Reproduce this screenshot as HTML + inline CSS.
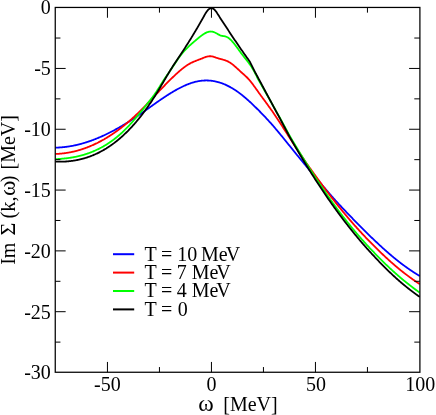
<!DOCTYPE html>
<html><head><meta charset="utf-8"><title>plot</title>
<style>
html,body{margin:0;padding:0;background:#fff;}
svg{display:block;will-change:transform;opacity:0.9999;}
text{font-family:"Liberation Serif",serif;font-size:20px;fill:#000;}
</style></head><body>
<svg width="436" height="415" viewBox="0 0 436 415">
<rect x="0" y="0" width="436" height="415" fill="#fff"/>

<clipPath id="c"><rect x="55.25" y="7.45" width="364.65" height="364.8"/></clipPath>
<g clip-path="url(#c)" fill="none" stroke-width="1.8" stroke-linejoin="round">
<path d="M55.3,147.65 L55.8,147.64 L56.3,147.62 L56.8,147.61 L57.3,147.59 L57.8,147.57 L58.3,147.55 L58.8,147.52 L59.3,147.49 L59.8,147.46 L60.3,147.43 L60.8,147.39 L61.3,147.35 L61.8,147.31 L62.3,147.27 L62.8,147.22 L63.3,147.17 L63.8,147.12 L64.3,147.07 L64.8,147.01 L65.3,146.95 L65.8,146.89 L66.3,146.82 L66.8,146.76 L67.3,146.69 L67.8,146.62 L68.3,146.54 L68.8,146.47 L69.3,146.39 L69.8,146.31 L70.3,146.22 L70.8,146.14 L71.3,146.05 L71.8,145.96 L72.3,145.86 L72.8,145.77 L73.3,145.67 L73.8,145.57 L74.3,145.46 L74.8,145.36 L75.3,145.25 L75.8,145.14 L76.3,145.03 L76.8,144.91 L77.3,144.79 L77.8,144.67 L78.3,144.55 L78.8,144.43 L79.3,144.30 L79.8,144.17 L80.3,144.04 L80.8,143.91 L81.3,143.77 L81.8,143.64 L82.3,143.50 L82.8,143.35 L83.3,143.21 L83.8,143.06 L84.3,142.91 L84.8,142.76 L85.3,142.61 L85.8,142.45 L86.3,142.29 L86.8,142.13 L87.3,141.97 L87.8,141.81 L88.3,141.64 L88.8,141.47 L89.3,141.30 L89.8,141.13 L90.3,140.95 L90.8,140.78 L91.3,140.60 L91.8,140.41 L92.3,140.23 L92.8,140.05 L93.3,139.86 L93.8,139.67 L94.3,139.48 L94.8,139.28 L95.3,139.09 L95.8,138.89 L96.3,138.69 L96.8,138.49 L97.3,138.28 L97.8,138.08 L98.3,137.87 L98.8,137.66 L99.3,137.45 L99.8,137.23 L100.3,137.02 L100.8,136.80 L101.3,136.58 L101.8,136.36 L102.3,136.13 L102.8,135.91 L103.3,135.68 L103.8,135.45 L104.3,135.22 L104.8,134.98 L105.3,134.75 L105.8,134.51 L106.3,134.27 L106.8,134.03 L107.3,133.79 L107.8,133.54 L108.3,133.30 L108.8,133.05 L109.3,132.80 L109.8,132.55 L110.3,132.29 L110.8,132.04 L111.3,131.78 L111.8,131.52 L112.3,131.26 L112.8,131.00 L113.3,130.73 L113.8,130.47 L114.3,130.20 L114.8,129.93 L115.3,129.66 L115.8,129.39 L116.3,129.11 L116.8,128.83 L117.3,128.56 L117.8,128.28 L118.3,127.99 L118.8,127.71 L119.3,127.43 L119.8,127.14 L120.3,126.85 L120.8,126.56 L121.3,126.27 L121.8,125.98 L122.3,125.68 L122.8,125.38 L123.3,125.09 L123.8,124.79 L124.3,124.48 L124.8,124.18 L125.3,123.88 L125.8,123.57 L126.3,123.26 L126.8,122.95 L127.3,122.64 L127.8,122.33 L128.3,122.02 L128.8,121.70 L129.3,121.39 L129.8,121.07 L130.3,120.75 L130.8,120.43 L131.3,120.10 L131.8,119.78 L132.3,119.45 L132.8,119.13 L133.3,118.80 L133.8,118.47 L134.3,118.14 L134.8,117.80 L135.3,117.47 L135.8,117.13 L136.3,116.80 L136.8,116.46 L137.3,116.12 L137.8,115.78 L138.3,115.43 L138.8,115.09 L139.3,114.75 L139.8,114.40 L140.3,114.05 L140.8,113.70 L141.3,113.35 L141.8,113.00 L142.3,112.65 L142.8,112.30 L143.3,111.95 L143.8,111.60 L144.3,111.24 L144.8,110.89 L145.3,110.53 L145.8,110.18 L146.3,109.82 L146.8,109.47 L147.3,109.11 L147.8,108.75 L148.3,108.40 L148.8,108.04 L149.3,107.68 L149.8,107.33 L150.3,106.97 L150.8,106.61 L151.3,106.26 L151.8,105.90 L152.3,105.54 L152.8,105.19 L153.3,104.83 L153.8,104.48 L154.3,104.12 L154.8,103.77 L155.3,103.42 L155.8,103.06 L156.3,102.71 L156.8,102.36 L157.3,102.01 L157.8,101.66 L158.3,101.31 L158.8,100.97 L159.3,100.62 L159.8,100.27 L160.3,99.93 L160.8,99.59 L161.3,99.25 L161.8,98.91 L162.3,98.57 L162.8,98.23 L163.3,97.89 L163.8,97.56 L164.3,97.23 L164.8,96.90 L165.3,96.57 L165.8,96.24 L166.3,95.91 L166.8,95.59 L167.3,95.27 L167.8,94.95 L168.3,94.63 L168.8,94.31 L169.3,94.00 L169.8,93.69 L170.3,93.38 L170.8,93.07 L171.3,92.76 L171.8,92.46 L172.3,92.16 L172.8,91.86 L173.3,91.57 L173.8,91.27 L174.3,90.98 L174.8,90.69 L175.3,90.41 L175.8,90.13 L176.3,89.85 L176.8,89.57 L177.3,89.29 L177.8,89.02 L178.3,88.75 L178.8,88.49 L179.3,88.22 L179.8,87.96 L180.3,87.71 L180.8,87.46 L181.3,87.21 L181.8,86.96 L182.3,86.72 L182.8,86.48 L183.3,86.24 L183.8,86.01 L184.3,85.78 L184.8,85.56 L185.3,85.34 L185.8,85.12 L186.3,84.91 L186.8,84.70 L187.3,84.50 L187.8,84.30 L188.3,84.10 L188.8,83.91 L189.3,83.72 L189.8,83.54 L190.3,83.36 L190.8,83.19 L191.3,83.02 L191.8,82.86 L192.3,82.70 L192.8,82.55 L193.3,82.40 L193.8,82.26 L194.3,82.12 L194.8,81.99 L195.3,81.86 L195.8,81.74 L196.3,81.62 L196.8,81.51 L197.3,81.40 L197.8,81.30 L198.3,81.21 L198.8,81.12 L199.3,81.04 L199.8,80.96 L200.3,80.89 L200.8,80.82 L201.3,80.76 L201.8,80.70 L202.3,80.65 L202.8,80.61 L203.3,80.57 L203.8,80.54 L204.3,80.51 L204.8,80.49 L205.3,80.48 L205.8,80.47 L206.3,80.46 L206.8,80.47 L207.3,80.48 L207.8,80.49 L208.3,80.51 L208.8,80.54 L209.3,80.57 L209.8,80.61 L210.3,80.65 L210.8,80.70 L211.3,80.76 L211.8,80.82 L212.3,80.89 L212.8,80.96 L213.3,81.04 L213.8,81.13 L214.3,81.22 L214.8,81.31 L215.3,81.42 L215.8,81.52 L216.3,81.64 L216.8,81.76 L217.3,81.88 L217.8,82.01 L218.3,82.15 L218.8,82.29 L219.3,82.44 L219.8,82.60 L220.3,82.76 L220.8,82.92 L221.3,83.09 L221.8,83.27 L222.3,83.45 L222.8,83.64 L223.3,83.83 L223.8,84.03 L224.3,84.24 L224.8,84.45 L225.3,84.67 L225.8,84.89 L226.3,85.11 L226.8,85.35 L227.3,85.59 L227.8,85.83 L228.3,86.08 L228.8,86.34 L229.3,86.60 L229.8,86.87 L230.3,87.14 L230.8,87.42 L231.3,87.70 L231.8,87.99 L232.3,88.28 L232.8,88.58 L233.3,88.89 L233.8,89.20 L234.3,89.52 L234.8,89.84 L235.3,90.17 L235.8,90.50 L236.3,90.84 L236.8,91.18 L237.3,91.53 L237.8,91.89 L238.3,92.25 L238.8,92.61 L239.3,92.98 L239.8,93.36 L240.3,93.74 L240.8,94.12 L241.3,94.51 L241.8,94.90 L242.3,95.30 L242.8,95.70 L243.3,96.11 L243.8,96.52 L244.3,96.94 L244.8,97.36 L245.3,97.78 L245.8,98.21 L246.3,98.64 L246.8,99.08 L247.3,99.52 L247.8,99.96 L248.3,100.41 L248.8,100.86 L249.3,101.32 L249.8,101.78 L250.3,102.24 L250.8,102.70 L251.3,103.17 L251.8,103.64 L252.3,104.12 L252.8,104.60 L253.3,105.08 L253.8,105.56 L254.3,106.05 L254.8,106.54 L255.3,107.03 L255.8,107.51 L256.3,108.00 L256.8,108.49 L257.3,108.99 L257.8,109.48 L258.3,109.98 L258.8,110.48 L259.3,110.99 L259.8,111.49 L260.3,112.00 L260.8,112.51 L261.3,113.03 L261.8,113.54 L262.3,114.06 L262.8,114.58 L263.3,115.10 L263.8,115.62 L264.3,116.15 L264.8,116.68 L265.3,117.21 L265.8,117.74 L266.3,118.28 L266.8,118.82 L267.3,119.36 L267.8,119.90 L268.3,120.44 L268.8,120.99 L269.3,121.53 L269.8,122.08 L270.3,122.63 L270.8,123.18 L271.3,123.73 L271.8,124.29 L272.3,124.86 L272.8,125.44 L273.3,126.03 L273.8,126.61 L274.3,127.20 L274.8,127.79 L275.3,128.38 L275.8,128.97 L276.3,129.57 L276.8,130.16 L277.3,130.76 L277.8,131.35 L278.3,131.95 L278.8,132.55 L279.3,133.15 L279.8,133.75 L280.3,134.36 L280.8,134.97 L281.3,135.58 L281.8,136.19 L282.3,136.80 L282.8,137.42 L283.3,138.03 L283.8,138.65 L284.3,139.26 L284.8,139.88 L285.3,140.50 L285.8,141.12 L286.3,141.74 L286.8,142.36 L287.3,142.98 L287.8,143.60 L288.3,144.22 L288.8,144.83 L289.3,145.44 L289.8,146.06 L290.3,146.67 L290.8,147.29 L291.3,147.90 L291.8,148.52 L292.3,149.13 L292.8,149.75 L293.3,150.37 L293.8,150.98 L294.3,151.60 L294.8,152.22 L295.3,152.84 L295.8,153.46 L296.3,154.08 L296.8,154.70 L297.3,155.31 L297.8,155.93 L298.3,156.55 L298.8,157.15 L299.3,157.76 L299.8,158.36 L300.3,158.97 L300.8,159.57 L301.3,160.18 L301.8,160.79 L302.3,161.39 L302.8,162.00 L303.3,162.60 L303.8,163.21 L304.3,163.81 L304.8,164.42 L305.3,165.02 L305.8,165.63 L306.3,166.23 L306.8,166.83 L307.3,167.44 L307.8,168.04 L308.3,168.64 L308.8,169.24 L309.3,169.84 L309.8,170.44 L310.3,171.04 L310.8,171.64 L311.3,172.24 L311.8,172.84 L312.3,173.44 L312.8,174.04 L313.3,174.63 L313.8,175.23 L314.3,175.83 L314.8,176.42 L315.3,177.02 L315.8,177.61 L316.3,178.21 L316.8,178.80 L317.3,179.39 L317.8,179.99 L318.3,180.58 L318.8,181.17 L319.3,181.76 L319.8,182.35 L320.3,182.94 L320.8,183.53 L321.3,184.11 L321.8,184.70 L322.3,185.29 L322.8,185.87 L323.3,186.46 L323.8,187.04 L324.3,187.63 L324.8,188.21 L325.3,188.79 L325.8,189.37 L326.3,189.95 L326.8,190.53 L327.3,191.11 L327.8,191.69 L328.3,192.27 L328.8,192.85 L329.3,193.42 L329.8,194.00 L330.3,194.57 L330.8,195.15 L331.3,195.72 L331.8,196.29 L332.3,196.86 L332.8,197.43 L333.3,198.00 L333.8,198.57 L334.3,199.14 L334.8,199.71 L335.3,200.26 L335.8,200.80 L336.3,201.35 L336.8,201.89 L337.3,202.43 L337.8,202.97 L338.3,203.51 L338.8,204.05 L339.3,204.59 L339.8,205.12 L340.3,205.66 L340.8,206.19 L341.3,206.73 L341.8,207.26 L342.3,207.79 L342.8,208.32 L343.3,208.85 L343.8,209.38 L344.3,209.91 L344.8,210.43 L345.3,210.96 L345.8,211.48 L346.3,212.01 L346.8,212.53 L347.3,213.05 L347.8,213.57 L348.3,214.09 L348.8,214.61 L349.3,215.12 L349.8,215.64 L350.3,216.16 L350.8,216.68 L351.3,217.20 L351.8,217.72 L352.3,218.24 L352.8,218.76 L353.3,219.28 L353.8,219.80 L354.3,220.31 L354.8,220.83 L355.3,221.34 L355.8,221.85 L356.3,222.36 L356.8,222.87 L357.3,223.38 L357.8,223.88 L358.3,224.39 L358.8,224.89 L359.3,225.40 L359.8,225.90 L360.3,226.40 L360.8,226.91 L361.3,227.42 L361.8,227.93 L362.3,228.43 L362.8,228.93 L363.3,229.44 L363.8,229.94 L364.3,230.44 L364.8,230.93 L365.3,231.43 L365.8,231.93 L366.3,232.42 L366.8,232.91 L367.3,233.40 L367.8,233.89 L368.3,234.38 L368.8,234.87 L369.3,235.35 L369.8,235.84 L370.3,236.32 L370.8,236.80 L371.3,237.28 L371.8,237.76 L372.3,238.23 L372.8,238.71 L373.3,239.18 L373.8,239.65 L374.3,240.13 L374.8,240.59 L375.3,241.07 L375.8,241.54 L376.3,242.02 L376.8,242.49 L377.3,242.96 L377.8,243.43 L378.3,243.90 L378.8,244.36 L379.3,244.83 L379.8,245.29 L380.3,245.75 L380.8,246.21 L381.3,246.67 L381.8,247.13 L382.3,247.58 L382.8,248.04 L383.3,248.49 L383.8,248.94 L384.3,249.39 L384.8,249.83 L385.3,250.28 L385.8,250.72 L386.3,251.16 L386.8,251.60 L387.3,252.04 L387.8,252.47 L388.3,252.91 L388.8,253.34 L389.3,253.77 L389.8,254.20 L390.3,254.63 L390.8,255.05 L391.3,255.48 L391.8,255.90 L392.3,256.32 L392.8,256.74 L393.3,257.15 L393.8,257.57 L394.3,257.98 L394.8,258.39 L395.3,258.80 L395.8,259.21 L396.3,259.61 L396.8,260.01 L397.3,260.41 L397.8,260.81 L398.3,261.21 L398.8,261.61 L399.3,262.00 L399.8,262.39 L400.3,262.78 L400.8,263.16 L401.3,263.53 L401.8,263.91 L402.3,264.29 L402.8,264.66 L403.3,265.03 L403.8,265.40 L404.3,265.76 L404.8,266.13 L405.3,266.49 L405.8,266.85 L406.3,267.21 L406.8,267.56 L407.3,267.91 L407.8,268.27 L408.3,268.62 L408.8,268.96 L409.3,269.31 L409.8,269.65 L410.3,269.99 L410.8,270.33 L411.3,270.67 L411.8,271.00 L412.3,271.34 L412.8,271.67 L413.3,272.00 L413.8,272.32 L414.3,272.65 L414.8,272.97 L415.3,273.29 L415.8,273.60 L416.3,273.92 L416.8,274.23 L417.3,274.54 L417.8,274.85 L418.3,275.16 L418.8,275.46 L419.3,275.76 L419.8,276.06" stroke="#0000ff"/>
<path d="M55.3,153.94 L55.8,153.93 L56.3,153.91 L56.8,153.89 L57.3,153.86 L57.8,153.84 L58.3,153.81 L58.8,153.78 L59.3,153.74 L59.8,153.70 L60.3,153.66 L60.8,153.62 L61.3,153.57 L61.8,153.53 L62.3,153.47 L62.8,153.42 L63.3,153.36 L63.8,153.30 L64.3,153.24 L64.8,153.18 L65.3,153.11 L65.8,153.04 L66.3,152.96 L66.8,152.89 L67.3,152.81 L67.8,152.73 L68.3,152.64 L68.8,152.55 L69.3,152.46 L69.8,152.37 L70.3,152.28 L70.8,152.18 L71.3,152.08 L71.8,151.97 L72.3,151.86 L72.8,151.75 L73.3,151.64 L73.8,151.53 L74.3,151.41 L74.8,151.29 L75.3,151.16 L75.8,151.04 L76.3,150.91 L76.8,150.78 L77.3,150.64 L77.8,150.50 L78.3,150.36 L78.8,150.22 L79.3,150.07 L79.8,149.92 L80.3,149.77 L80.8,149.62 L81.3,149.46 L81.8,149.30 L82.3,149.14 L82.8,148.97 L83.3,148.80 L83.8,148.63 L84.3,148.46 L84.8,148.28 L85.3,148.10 L85.8,147.92 L86.3,147.73 L86.8,147.54 L87.3,147.35 L87.8,147.16 L88.3,146.96 L88.8,146.76 L89.3,146.56 L89.8,146.36 L90.3,146.15 L90.8,145.94 L91.3,145.72 L91.8,145.51 L92.3,145.29 L92.8,145.06 L93.3,144.84 L93.8,144.61 L94.3,144.38 L94.8,144.15 L95.3,143.91 L95.8,143.67 L96.3,143.43 L96.8,143.18 L97.3,142.94 L97.8,142.68 L98.3,142.43 L98.8,142.17 L99.3,141.92 L99.8,141.65 L100.3,141.39 L100.8,141.12 L101.3,140.85 L101.8,140.58 L102.3,140.30 L102.8,140.02 L103.3,139.74 L103.8,139.45 L104.3,139.17 L104.8,138.87 L105.3,138.58 L105.8,138.28 L106.3,137.99 L106.8,137.68 L107.3,137.38 L107.8,137.07 L108.3,136.76 L108.8,136.45 L109.3,136.13 L109.8,135.81 L110.3,135.49 L110.8,135.16 L111.3,134.83 L111.8,134.50 L112.3,134.17 L112.8,133.83 L113.3,133.49 L113.8,133.15 L114.3,132.81 L114.8,132.46 L115.3,132.11 L115.8,131.75 L116.3,131.40 L116.8,131.04 L117.3,130.67 L117.8,130.31 L118.3,129.94 L118.8,129.57 L119.3,129.19 L119.8,128.82 L120.3,128.44 L120.8,128.05 L121.3,127.67 L121.8,127.28 L122.3,126.89 L122.8,126.49 L123.3,126.10 L123.8,125.70 L124.3,125.29 L124.8,124.89 L125.3,124.48 L125.8,124.07 L126.3,123.65 L126.8,123.23 L127.3,122.81 L127.8,122.39 L128.3,121.96 L128.8,121.53 L129.3,121.10 L129.8,120.67 L130.3,120.23 L130.8,119.79 L131.3,119.34 L131.8,118.90 L132.3,118.45 L132.8,117.99 L133.3,117.54 L133.8,117.08 L134.3,116.62 L134.8,116.15 L135.3,115.69 L135.8,115.22 L136.3,114.74 L136.8,114.27 L137.3,113.79 L137.8,113.30 L138.3,112.82 L138.8,112.33 L139.3,111.84 L139.8,111.35 L140.3,110.85 L140.8,110.36 L141.3,109.86 L141.8,109.35 L142.3,108.85 L142.8,108.34 L143.3,107.84 L143.8,107.33 L144.3,106.81 L144.8,106.30 L145.3,105.78 L145.8,105.27 L146.3,104.75 L146.8,104.23 L147.3,103.71 L147.8,103.18 L148.3,102.66 L148.8,102.13 L149.3,101.61 L149.8,101.08 L150.3,100.55 L150.8,100.03 L151.3,99.50 L151.8,98.97 L152.3,98.44 L152.8,97.91 L153.3,97.37 L153.8,96.84 L154.3,96.31 L154.8,95.78 L155.3,95.25 L155.8,94.72 L156.3,94.18 L156.8,93.65 L157.3,93.12 L157.8,92.59 L158.3,92.06 L158.8,91.53 L159.3,91.00 L159.8,90.47 L160.3,89.95 L160.8,89.42 L161.3,88.89 L161.8,88.37 L162.3,87.85 L162.8,87.32 L163.3,86.80 L163.8,86.28 L164.3,85.76 L164.8,85.25 L165.3,84.73 L165.8,84.22 L166.3,83.70 L166.8,83.19 L167.3,82.69 L167.8,82.18 L168.3,81.68 L168.8,81.17 L169.3,80.67 L169.8,80.18 L170.3,79.68 L170.8,79.19 L171.3,78.70 L171.8,78.21 L172.3,77.73 L172.8,77.25 L173.3,76.77 L173.8,76.29 L174.3,75.82 L174.8,75.35 L175.3,74.88 L175.8,74.42 L176.3,73.96 L176.8,73.50 L177.3,73.05 L177.8,72.60 L178.3,72.15 L178.8,71.71 L179.3,71.28 L179.8,70.85 L180.3,70.42 L180.8,70.00 L181.3,69.58 L181.8,69.17 L182.3,68.77 L182.8,68.37 L183.3,67.98 L183.8,67.59 L184.3,67.22 L184.8,66.85 L185.3,66.49 L185.8,66.13 L186.3,65.78 L186.8,65.45 L187.3,65.12 L187.8,64.80 L188.3,64.48 L188.8,64.18 L189.3,63.89 L189.8,63.61 L190.3,63.33 L190.8,63.07 L191.3,62.82 L191.8,62.57 L192.3,62.34 L192.8,62.11 L193.3,61.89 L193.8,61.67 L194.3,61.46 L194.8,61.25 L195.3,61.05 L195.8,60.85 L196.3,60.66 L196.8,60.47 L197.3,60.28 L197.8,60.09 L198.3,59.90 L198.8,59.71 L199.3,59.52 L199.8,59.33 L200.3,59.14 L200.8,58.94 L201.3,58.75 L201.8,58.55 L202.3,58.34 L202.8,58.13 L203.3,57.92 L203.8,57.70 L204.3,57.50 L204.8,57.30 L205.3,57.11 L205.8,56.93 L206.3,56.77 L206.8,56.64 L207.3,56.52 L207.8,56.42 L208.3,56.35 L208.8,56.29 L209.3,56.25 L209.8,56.24 L210.3,56.24 L210.8,56.27 L211.3,56.32 L211.8,56.39 L212.3,56.48 L212.8,56.59 L213.3,56.73 L213.8,56.88 L214.3,57.04 L214.8,57.22 L215.3,57.39 L215.8,57.57 L216.3,57.75 L216.8,57.92 L217.3,58.08 L217.8,58.23 L218.3,58.38 L218.8,58.52 L219.3,58.66 L219.8,58.79 L220.3,58.92 L220.8,59.06 L221.3,59.19 L221.8,59.32 L222.3,59.45 L222.8,59.59 L223.3,59.74 L223.8,59.89 L224.3,60.04 L224.8,60.21 L225.3,60.38 L225.8,60.56 L226.3,60.76 L226.8,60.96 L227.3,61.18 L227.8,61.42 L228.3,61.67 L228.8,61.93 L229.3,62.22 L229.8,62.52 L230.3,62.84 L230.8,63.17 L231.3,63.53 L231.8,63.89 L232.3,64.27 L232.8,64.66 L233.3,65.06 L233.8,65.47 L234.3,65.89 L234.8,66.32 L235.3,66.76 L235.8,67.20 L236.3,67.65 L236.8,68.11 L237.3,68.56 L237.8,69.02 L238.3,69.49 L238.8,69.95 L239.3,70.41 L239.8,70.88 L240.3,71.34 L240.8,71.80 L241.3,72.26 L241.8,72.71 L242.3,73.16 L242.8,73.61 L243.3,74.05 L243.8,74.49 L244.3,74.94 L244.8,75.38 L245.3,75.84 L245.8,76.30 L246.3,76.76 L246.8,77.24 L247.3,77.74 L247.8,78.25 L248.3,78.78 L248.8,79.32 L249.3,79.89 L249.8,80.48 L250.3,81.08 L250.8,81.71 L251.3,82.34 L251.8,82.99 L252.3,83.66 L252.8,84.34 L253.3,85.03 L253.8,85.72 L254.3,86.41 L254.8,87.09 L255.3,87.78 L255.8,88.48 L256.3,89.18 L256.8,89.88 L257.3,90.58 L257.8,91.29 L258.3,91.99 L258.8,92.70 L259.3,93.40 L259.8,94.10 L260.3,94.79 L260.8,95.48 L261.3,96.16 L261.8,96.84 L262.3,97.51 L262.8,98.19 L263.3,98.87 L263.8,99.54 L264.3,100.22 L264.8,100.89 L265.3,101.57 L265.8,102.24 L266.3,102.93 L266.8,103.63 L267.3,104.32 L267.8,105.02 L268.3,105.72 L268.8,106.41 L269.3,107.11 L269.8,107.81 L270.3,108.50 L270.8,109.20 L271.3,109.90 L271.8,110.60 L272.3,111.32 L272.8,112.05 L273.3,112.78 L273.8,113.51 L274.3,114.25 L274.8,114.98 L275.3,115.72 L275.8,116.46 L276.3,117.19 L276.8,117.93 L277.3,118.67 L277.8,119.41 L278.3,120.17 L278.8,120.94 L279.3,121.71 L279.8,122.48 L280.3,123.26 L280.8,124.03 L281.3,124.80 L281.8,125.58 L282.3,126.35 L282.8,127.12 L283.3,127.90 L283.8,128.68 L284.3,129.45 L284.8,130.23 L285.3,131.01 L285.8,131.78 L286.3,132.56 L286.8,133.34 L287.3,134.12 L287.8,134.90 L288.3,135.67 L288.8,136.45 L289.3,137.23 L289.8,138.01 L290.3,138.79 L290.8,139.57 L291.3,140.35 L291.8,141.13 L292.3,141.89 L292.8,142.66 L293.3,143.42 L293.8,144.18 L294.3,144.94 L294.8,145.70 L295.3,146.46 L295.8,147.22 L296.3,147.98 L296.8,148.74 L297.3,149.50 L297.8,150.26 L298.3,151.02 L298.8,151.78 L299.3,152.53 L299.8,153.29 L300.3,154.04 L300.8,154.80 L301.3,155.55 L301.8,156.31 L302.3,157.06 L302.8,157.81 L303.3,158.56 L303.8,159.31 L304.3,160.06 L304.8,160.81 L305.3,161.54 L305.8,162.25 L306.3,162.96 L306.8,163.67 L307.3,164.38 L307.8,165.08 L308.3,165.79 L308.8,166.49 L309.3,167.20 L309.8,167.90 L310.3,168.60 L310.8,169.30 L311.3,170.00 L311.8,170.70 L312.3,171.39 L312.8,172.09 L313.3,172.78 L313.8,173.47 L314.3,174.16 L314.8,174.84 L315.3,175.54 L315.8,176.24 L316.3,176.94 L316.8,177.63 L317.3,178.33 L317.8,179.02 L318.3,179.71 L318.8,180.40 L319.3,181.08 L319.8,181.77 L320.3,182.45 L320.8,183.14 L321.3,183.82 L321.8,184.50 L322.3,185.17 L322.8,185.85 L323.3,186.52 L323.8,187.20 L324.3,187.87 L324.8,188.54 L325.3,189.20 L325.8,189.87 L326.3,190.53 L326.8,191.19 L327.3,191.85 L327.8,192.51 L328.3,193.17 L328.8,193.83 L329.3,194.48 L329.8,195.13 L330.3,195.78 L330.8,196.43 L331.3,197.08 L331.8,197.72 L332.3,198.37 L332.8,199.01 L333.3,199.65 L333.8,200.29 L334.3,200.92 L334.8,201.56 L335.3,202.19 L335.8,202.82 L336.3,203.45 L336.8,204.08 L337.3,204.71 L337.8,205.33 L338.3,205.95 L338.8,206.58 L339.3,207.19 L339.8,207.81 L340.3,208.43 L340.8,209.04 L341.3,209.66 L341.8,210.27 L342.3,210.88 L342.8,211.48 L343.3,212.09 L343.8,212.69 L344.3,213.29 L344.8,213.89 L345.3,214.49 L345.8,215.09 L346.3,215.69 L346.8,216.28 L347.3,216.87 L347.8,217.46 L348.3,218.05 L348.8,218.64 L349.3,219.22 L349.8,219.80 L350.3,220.38 L350.8,220.96 L351.3,221.54 L351.8,222.12 L352.3,222.69 L352.8,223.26 L353.3,223.84 L353.8,224.40 L354.3,224.97 L354.8,225.54 L355.3,226.10 L355.8,226.66 L356.3,227.22 L356.8,227.78 L357.3,228.34 L357.8,228.89 L358.3,229.45 L358.8,230.00 L359.3,230.55 L359.8,231.09 L360.3,231.64 L360.8,232.18 L361.3,232.73 L361.8,233.27 L362.3,233.81 L362.8,234.34 L363.3,234.88 L363.8,235.41 L364.3,235.94 L364.8,236.47 L365.3,237.00 L365.8,237.53 L366.3,238.05 L366.8,238.58 L367.3,239.10 L367.8,239.62 L368.3,240.13 L368.8,240.65 L369.3,241.16 L369.8,241.67 L370.3,242.18 L370.8,242.69 L371.3,243.20 L371.8,243.70 L372.3,244.21 L372.8,244.71 L373.3,245.21 L373.8,245.71 L374.3,246.20 L374.8,246.70 L375.3,247.19 L375.8,247.69 L376.3,248.19 L376.8,248.69 L377.3,249.18 L377.8,249.68 L378.3,250.17 L378.8,250.66 L379.3,251.15 L379.8,251.63 L380.3,252.12 L380.8,252.60 L381.3,253.08 L381.8,253.56 L382.3,254.03 L382.8,254.51 L383.3,254.98 L383.8,255.45 L384.3,255.92 L384.8,256.39 L385.3,256.85 L385.8,257.32 L386.3,257.78 L386.8,258.24 L387.3,258.70 L387.8,259.15 L388.3,259.61 L388.8,260.06 L389.3,260.51 L389.8,260.96 L390.3,261.41 L390.8,261.85 L391.3,262.30 L391.8,262.74 L392.3,263.18 L392.8,263.62 L393.3,264.05 L393.8,264.49 L394.3,264.92 L394.8,265.35 L395.3,265.78 L395.8,266.21 L396.3,266.63 L396.8,267.05 L397.3,267.47 L397.8,267.89 L398.3,268.31 L398.8,268.73 L399.3,269.14 L399.8,269.55 L400.3,269.96 L400.8,270.36 L401.3,270.76 L401.8,271.15 L402.3,271.55 L402.8,271.94 L403.3,272.33 L403.8,272.72 L404.3,273.11 L404.8,273.49 L405.3,273.88 L405.8,274.26 L406.3,274.64 L406.8,275.02 L407.3,275.39 L407.8,275.77 L408.3,276.14 L408.8,276.51 L409.3,276.88 L409.8,277.24 L410.3,277.61 L410.8,277.97 L411.3,278.33 L411.8,278.69 L412.3,279.05 L412.8,279.40 L413.3,279.76 L413.8,280.11 L414.3,280.46 L414.8,280.81 L415.3,281.15 L415.8,281.49 L416.3,281.84 L416.8,282.18 L417.3,282.51 L417.8,282.85 L418.3,283.18 L418.8,283.52 L419.3,283.85 L419.8,284.17" stroke="#ff0000"/>
<path d="M55.3,159.15 L55.8,159.13 L56.3,159.11 L56.8,159.08 L57.3,159.06 L57.8,159.03 L58.3,159.00 L58.8,158.97 L59.3,158.94 L59.8,158.91 L60.3,158.87 L60.8,158.83 L61.3,158.79 L61.8,158.75 L62.3,158.71 L62.8,158.67 L63.3,158.62 L63.8,158.57 L64.3,158.52 L64.8,158.47 L65.3,158.41 L65.8,158.36 L66.3,158.30 L66.8,158.24 L67.3,158.18 L67.8,158.11 L68.3,158.05 L68.8,157.98 L69.3,157.91 L69.8,157.83 L70.3,157.76 L70.8,157.68 L71.3,157.60 L71.8,157.51 L72.3,157.43 L72.8,157.34 L73.3,157.25 L73.8,157.16 L74.3,157.06 L74.8,156.97 L75.3,156.87 L75.8,156.76 L76.3,156.66 L76.8,156.55 L77.3,156.44 L77.8,156.33 L78.3,156.21 L78.8,156.09 L79.3,155.97 L79.8,155.85 L80.3,155.72 L80.8,155.59 L81.3,155.46 L81.8,155.33 L82.3,155.19 L82.8,155.05 L83.3,154.90 L83.8,154.76 L84.3,154.61 L84.8,154.45 L85.3,154.30 L85.8,154.14 L86.3,153.98 L86.8,153.81 L87.3,153.64 L87.8,153.47 L88.3,153.29 L88.8,153.12 L89.3,152.93 L89.8,152.75 L90.3,152.56 L90.8,152.37 L91.3,152.18 L91.8,151.98 L92.3,151.77 L92.8,151.57 L93.3,151.36 L93.8,151.15 L94.3,150.93 L94.8,150.71 L95.3,150.49 L95.8,150.26 L96.3,150.03 L96.8,149.80 L97.3,149.56 L97.8,149.32 L98.3,149.08 L98.8,148.83 L99.3,148.58 L99.8,148.32 L100.3,148.06 L100.8,147.79 L101.3,147.53 L101.8,147.25 L102.3,146.98 L102.8,146.70 L103.3,146.42 L103.8,146.13 L104.3,145.84 L104.8,145.54 L105.3,145.24 L105.8,144.93 L106.3,144.63 L106.8,144.31 L107.3,144.00 L107.8,143.67 L108.3,143.35 L108.8,143.02 L109.3,142.69 L109.8,142.35 L110.3,142.00 L110.8,141.66 L111.3,141.31 L111.8,140.95 L112.3,140.59 L112.8,140.22 L113.3,139.85 L113.8,139.48 L114.3,139.10 L114.8,138.71 L115.3,138.32 L115.8,137.93 L116.3,137.53 L116.8,137.13 L117.3,136.72 L117.8,136.30 L118.3,135.88 L118.8,135.46 L119.3,135.03 L119.8,134.59 L120.3,134.15 L120.8,133.71 L121.3,133.26 L121.8,132.80 L122.3,132.34 L122.8,131.87 L123.3,131.39 L123.8,130.92 L124.3,130.43 L124.8,129.94 L125.3,129.44 L125.8,128.94 L126.3,128.44 L126.8,127.92 L127.3,127.41 L127.8,126.89 L128.3,126.36 L128.8,125.83 L129.3,125.29 L129.8,124.75 L130.3,124.21 L130.8,123.66 L131.3,123.11 L131.8,122.55 L132.3,121.99 L132.8,121.42 L133.3,120.85 L133.8,120.28 L134.3,119.71 L134.8,119.13 L135.3,118.54 L135.8,117.96 L136.3,117.37 L136.8,116.78 L137.3,116.18 L137.8,115.58 L138.3,114.98 L138.8,114.38 L139.3,113.77 L139.8,113.16 L140.3,112.55 L140.8,111.94 L141.3,111.32 L141.8,110.71 L142.3,110.09 L142.8,109.47 L143.3,108.84 L143.8,108.22 L144.3,107.59 L144.8,106.97 L145.3,106.34 L145.8,105.71 L146.3,105.08 L146.8,104.45 L147.3,103.81 L147.8,103.18 L148.3,102.55 L148.8,101.91 L149.3,101.28 L149.8,100.64 L150.3,100.01 L150.8,99.37 L151.3,98.73 L151.8,98.09 L152.3,97.45 L152.8,96.80 L153.3,96.13 L153.8,95.46 L154.3,94.78 L154.8,94.08 L155.3,93.36 L155.8,92.63 L156.3,91.89 L156.8,91.13 L157.3,90.36 L157.8,89.58 L158.3,88.79 L158.8,87.99 L159.3,87.19 L159.8,86.39 L160.3,85.59 L160.8,84.78 L161.3,83.98 L161.8,83.18 L162.3,82.39 L162.8,81.60 L163.3,80.82 L163.8,80.05 L164.3,79.29 L164.8,78.54 L165.3,77.80 L165.8,77.06 L166.3,76.33 L166.8,75.60 L167.3,74.88 L167.8,74.16 L168.3,73.44 L168.8,72.72 L169.3,71.99 L169.8,71.27 L170.3,70.54 L170.8,69.81 L171.3,69.07 L171.8,68.33 L172.3,67.58 L172.8,66.82 L173.3,66.05 L173.8,65.28 L174.3,64.51 L174.8,63.74 L175.3,62.97 L175.8,62.21 L176.3,61.45 L176.8,60.69 L177.3,59.95 L177.8,59.22 L178.3,58.51 L178.8,57.81 L179.3,57.12 L179.8,56.45 L180.3,55.79 L180.8,55.14 L181.3,54.51 L181.8,53.89 L182.3,53.28 L182.8,52.69 L183.3,52.11 L183.8,51.53 L184.3,50.97 L184.8,50.42 L185.3,49.88 L185.8,49.35 L186.3,48.83 L186.8,48.32 L187.3,47.82 L187.8,47.32 L188.3,46.84 L188.8,46.36 L189.3,45.89 L189.8,45.43 L190.3,44.97 L190.8,44.52 L191.3,44.07 L191.8,43.63 L192.3,43.20 L192.8,42.77 L193.3,42.34 L193.8,41.91 L194.3,41.49 L194.8,41.07 L195.3,40.65 L195.8,40.23 L196.3,39.81 L196.8,39.39 L197.3,38.97 L197.8,38.55 L198.3,38.13 L198.8,37.72 L199.3,37.31 L199.8,36.91 L200.3,36.51 L200.8,36.12 L201.3,35.74 L201.8,35.36 L202.3,35.00 L202.8,34.65 L203.3,34.31 L203.8,33.99 L204.3,33.68 L204.8,33.39 L205.3,33.12 L205.8,32.86 L206.3,32.62 L206.8,32.40 L207.3,32.21 L207.8,32.03 L208.3,31.88 L208.8,31.75 L209.3,31.65 L209.8,31.58 L210.3,31.53 L210.8,31.52 L211.3,31.53 L211.8,31.57 L212.3,31.65 L212.8,31.75 L213.3,31.90 L213.8,32.07 L214.3,32.27 L214.8,32.50 L215.3,32.74 L215.8,33.00 L216.3,33.27 L216.8,33.55 L217.3,33.83 L217.8,34.11 L218.3,34.39 L218.8,34.65 L219.3,34.90 L219.8,35.14 L220.3,35.35 L220.8,35.53 L221.3,35.69 L221.8,35.81 L222.3,35.91 L222.8,35.99 L223.3,36.07 L223.8,36.14 L224.3,36.21 L224.8,36.31 L225.3,36.42 L225.8,36.56 L226.3,36.73 L226.8,36.95 L227.3,37.21 L227.8,37.50 L228.3,37.83 L228.8,38.19 L229.3,38.58 L229.8,39.01 L230.3,39.46 L230.8,39.94 L231.3,40.44 L231.8,40.97 L232.3,41.52 L232.8,42.09 L233.3,42.69 L233.8,43.29 L234.3,43.92 L234.8,44.55 L235.3,45.20 L235.8,45.86 L236.3,46.53 L236.8,47.21 L237.3,47.89 L237.8,48.58 L238.3,49.27 L238.8,49.96 L239.3,50.65 L239.8,51.33 L240.3,52.02 L240.8,52.69 L241.3,53.36 L241.8,54.02 L242.3,54.67 L242.8,55.32 L243.3,55.95 L243.8,56.58 L244.3,57.21 L244.8,57.84 L245.3,58.47 L245.8,59.10 L246.3,59.73 L246.8,60.37 L247.3,61.01 L247.8,61.67 L248.3,62.33 L248.8,63.00 L249.3,63.69 L249.8,64.39 L250.3,65.11 L250.8,65.85 L251.3,66.60 L251.8,67.38 L252.3,68.18 L252.8,69.00 L253.3,69.85 L253.8,70.73 L254.3,71.63 L254.8,72.57 L255.3,73.51 L255.8,74.46 L256.3,75.44 L256.8,76.46 L257.3,77.52 L257.8,78.62 L258.0,79.00 L258.5,79.87 L259.0,80.74 L259.5,81.62 L260.0,82.49 L260.5,83.35 L261.0,84.22 L261.5,85.09 L262.0,85.98 L262.5,86.88 L263.0,87.77 L263.5,88.67 L264.0,89.56 L264.5,90.45 L265.0,91.34 L265.5,92.23 L266.0,93.12 L266.5,94.01 L267.0,94.89 L267.5,95.78 L268.0,96.66 L268.5,97.54 L269.0,98.42 L269.5,99.31 L270.0,100.18 L270.5,101.09 L271.0,101.99 L271.5,102.89 L272.0,103.79 L272.5,104.68 L273.0,105.58 L273.5,106.47 L274.0,107.37 L274.5,108.26 L275.0,109.15 L275.5,110.04 L276.0,110.93 L276.5,111.82 L277.0,112.71 L277.5,113.59 L278.0,114.48 L278.5,115.36 L279.0,116.24 L279.5,117.12 L280.0,118.00 L280.5,118.93 L281.0,119.86 L281.5,120.79 L282.0,121.72 L282.5,122.65 L283.0,123.58 L283.5,124.50 L284.0,125.42 L284.5,126.35 L285.0,127.27 L285.5,128.19 L286.0,129.10 L286.5,130.02 L287.0,130.93 L287.5,131.85 L288.0,132.76 L288.5,133.67 L289.0,134.58 L289.5,135.49 L290.0,136.40 L290.5,137.25 L291.0,138.09 L291.5,138.94 L292.0,139.79 L292.5,140.63 L293.0,141.47 L293.5,142.31 L294.0,143.15 L294.5,143.99 L295.0,144.83 L295.5,145.66 L296.0,146.50 L296.5,147.33 L297.0,148.16 L297.5,148.99 L298.0,149.81 L298.5,150.64 L299.0,151.46 L299.5,152.28 L300.0,153.10 L300.5,153.92 L301.0,154.74 L301.5,155.56 L302.0,156.37 L302.5,157.18 L303.0,157.99 L303.5,158.80 L304.0,159.61 L304.5,160.41 L305.0,161.22 L305.5,162.02 L306.0,162.82 L306.5,163.62 L307.0,164.41 L307.5,165.21 L308.0,166.00 L308.5,166.79 L309.0,167.58 L309.5,168.37 L310.0,169.16 L310.5,169.94 L311.0,170.72 L311.5,171.50 L312.0,172.28 L312.5,173.06 L313.0,173.83 L313.5,174.61 L314.0,175.38 L314.5,176.15 L315.0,176.91 L315.5,177.68 L316.0,178.44 L316.5,179.21 L317.0,179.96 L317.5,180.72 L318.0,181.48 L318.5,182.23 L319.0,182.98 L319.5,183.73 L320.0,184.48 L320.5,185.23 L321.0,185.97 L321.5,186.71 L322.0,187.45 L322.5,188.19 L323.0,188.93 L323.5,189.66 L324.0,190.39 L324.5,191.12 L325.0,191.85 L325.5,192.57 L326.0,193.30 L326.5,194.02 L327.0,194.74 L327.5,195.46 L328.0,196.17 L328.5,196.88 L329.0,197.59 L329.5,198.30 L330.0,199.01 L330.5,199.71 L331.0,200.41 L331.5,201.11 L332.0,201.81 L332.5,202.51 L333.0,203.20 L333.5,203.89 L334.0,204.58 L334.5,205.27 L335.0,205.95 L335.5,206.63 L336.0,207.31 L336.5,207.99 L337.0,208.67 L337.5,209.34 L338.0,210.01 L338.5,210.68 L339.0,211.34 L339.5,212.01 L340.0,212.67 L340.5,213.33 L341.0,213.98 L341.5,214.64 L342.0,215.29 L342.5,215.94 L343.0,216.59 L343.5,217.23 L344.0,217.88 L344.5,218.52 L345.0,219.15 L345.5,219.79 L346.0,220.42 L346.5,221.06 L347.0,221.69 L347.5,222.31 L348.0,222.94 L348.5,223.56 L349.0,224.18 L349.5,224.80 L350.0,225.42 L350.5,226.03 L351.0,226.64 L351.5,227.25 L352.0,227.86 L352.5,228.46 L353.0,229.07 L353.5,229.67 L354.0,230.27 L354.5,230.86 L355.0,231.46 L355.5,232.05 L356.0,232.64 L356.5,233.23 L357.0,233.81 L357.5,234.40 L358.0,234.98 L358.5,235.56 L359.0,236.13 L359.5,236.71 L360.0,237.28 L360.5,237.85 L361.0,238.42 L361.5,238.99 L362.0,239.55 L362.5,240.11 L363.0,240.68 L363.5,241.23 L364.0,241.79 L364.5,242.34 L365.0,242.90 L365.5,243.45 L366.0,243.99 L366.5,244.54 L367.0,245.08 L367.5,245.63 L368.0,246.17 L368.5,246.71 L369.0,247.24 L369.5,247.78 L370.0,248.31 L370.5,248.84 L371.0,249.37 L371.5,249.89 L372.0,250.42 L372.5,250.94 L373.0,251.46 L373.5,251.98 L374.0,252.49 L374.5,253.01 L375.0,253.52 L375.5,254.04 L376.0,254.56 L376.5,255.07 L377.0,255.59 L377.5,256.10 L378.0,256.61 L378.5,257.12 L379.0,257.63 L379.5,258.13 L380.0,258.64 L380.5,259.14 L381.0,259.64 L381.5,260.13 L382.0,260.63 L382.5,261.12 L383.0,261.62 L383.5,262.11 L384.0,262.59 L384.5,263.08 L385.0,263.56 L385.5,264.05 L386.0,264.53 L386.5,265.01 L387.0,265.48 L387.5,265.96 L388.0,266.43 L388.5,266.91 L389.0,267.38 L389.5,267.84 L390.0,268.31 L390.5,268.77 L391.0,269.24 L391.5,269.70 L392.0,270.16 L392.5,270.62 L393.0,271.07 L393.5,271.53 L394.0,271.98 L394.5,272.43 L395.0,272.88 L395.5,273.32 L396.0,273.77 L396.5,274.21 L397.0,274.66 L397.5,275.10 L398.0,275.53 L398.5,275.97 L399.0,276.41 L399.5,276.84 L400.0,277.27 L400.5,277.69 L401.0,278.11 L401.5,278.53 L402.0,278.94 L402.5,279.36 L403.0,279.77 L403.5,280.18 L404.0,280.59 L404.5,280.99 L405.0,281.40 L405.5,281.80 L406.0,282.20 L406.5,282.60 L407.0,283.00 L407.5,283.40 L408.0,283.80 L408.5,284.19 L409.0,284.58 L409.5,284.97 L410.0,285.36 L410.5,285.75 L411.0,286.14 L411.5,286.52 L412.0,286.90 L412.5,287.29 L413.0,287.67 L413.5,288.04 L414.0,288.42 L414.5,288.80 L415.0,289.17 L415.5,289.54 L416.0,289.91 L416.5,290.28 L417.0,290.65 L417.5,291.02 L418.0,291.38 L418.5,291.75 L419.0,292.11 L419.5,292.47" stroke="#00ff00"/>
<path d="M55.3,161.64 L55.8,161.66 L56.3,161.67 L56.8,161.69 L57.3,161.70 L57.8,161.71 L58.3,161.71 L58.8,161.72 L59.3,161.72 L59.8,161.72 L60.3,161.72 L60.8,161.71 L61.3,161.70 L61.8,161.69 L62.3,161.68 L62.8,161.66 L63.3,161.64 L63.8,161.62 L64.3,161.60 L64.8,161.57 L65.3,161.54 L65.8,161.51 L66.3,161.48 L66.8,161.44 L67.3,161.40 L67.8,161.36 L68.3,161.31 L68.8,161.26 L69.3,161.21 L69.8,161.16 L70.3,161.10 L70.8,161.04 L71.3,160.98 L71.8,160.92 L72.3,160.85 L72.8,160.78 L73.3,160.70 L73.8,160.63 L74.3,160.54 L74.8,160.46 L75.3,160.38 L75.8,160.29 L76.3,160.19 L76.8,160.10 L77.3,160.00 L77.8,159.90 L78.3,159.79 L78.8,159.69 L79.3,159.58 L79.8,159.46 L80.3,159.34 L80.8,159.22 L81.3,159.10 L81.8,158.97 L82.3,158.84 L82.8,158.71 L83.3,158.57 L83.8,158.43 L84.3,158.29 L84.8,158.14 L85.3,157.99 L85.8,157.84 L86.3,157.68 L86.8,157.52 L87.3,157.35 L87.8,157.19 L88.3,157.02 L88.8,156.84 L89.3,156.66 L89.8,156.48 L90.3,156.30 L90.8,156.11 L91.3,155.92 L91.8,155.72 L92.3,155.52 L92.8,155.32 L93.3,155.11 L93.8,154.90 L94.3,154.69 L94.8,154.47 L95.3,154.25 L95.8,154.02 L96.3,153.79 L96.8,153.56 L97.3,153.32 L97.8,153.08 L98.3,152.84 L98.8,152.59 L99.3,152.34 L99.8,152.08 L100.3,151.82 L100.8,151.56 L101.3,151.29 L101.8,151.02 L102.3,150.75 L102.8,150.47 L103.3,150.18 L103.8,149.89 L104.3,149.60 L104.8,149.31 L105.3,149.01 L105.8,148.70 L106.3,148.40 L106.8,148.08 L107.3,147.77 L107.8,147.45 L108.3,147.12 L108.8,146.79 L109.3,146.46 L109.8,146.12 L110.3,145.78 L110.8,145.44 L111.3,145.09 L111.8,144.73 L112.3,144.37 L112.8,144.01 L113.3,143.64 L113.8,143.27 L114.3,142.90 L114.8,142.51 L115.3,142.13 L115.8,141.74 L116.3,141.35 L116.8,140.95 L117.3,140.55 L117.8,140.14 L118.3,139.73 L118.8,139.31 L119.3,138.89 L119.8,138.46 L120.3,138.03 L120.8,137.60 L121.3,137.16 L121.8,136.71 L122.3,136.27 L122.8,135.81 L123.3,135.35 L123.8,134.89 L124.3,134.42 L124.8,133.95 L125.3,133.47 L125.8,132.99 L126.3,132.51 L126.8,132.01 L127.3,131.52 L127.8,131.02 L128.3,130.51 L128.8,130.00 L129.3,129.48 L129.8,128.96 L130.3,128.44 L130.8,127.91 L131.3,127.37 L131.8,126.83 L132.3,126.28 L132.8,125.73 L133.3,125.18 L133.8,124.61 L134.3,124.05 L134.8,123.48 L135.3,122.90 L135.8,122.32 L136.3,121.73 L136.8,121.14 L137.3,120.54 L137.8,119.94 L138.3,119.33 L138.8,118.72 L139.3,118.10 L139.8,117.48 L140.3,116.85 L140.8,116.22 L141.3,115.58 L141.8,114.93 L142.3,114.28 L142.8,113.63 L143.3,112.97 L143.8,112.30 L144.3,111.63 L144.8,110.95 L145.3,110.27 L145.8,109.58 L146.3,108.89 L146.8,108.19 L147.3,107.48 L147.8,106.77 L148.3,106.06 L148.8,105.33 L149.3,104.61 L149.8,103.87 L150.3,103.14 L150.8,102.39 L151.3,101.64 L151.8,100.89 L152.3,100.13 L152.8,99.36 L153.3,98.59 L153.8,97.81 L154.3,97.02 L154.8,96.23 L155.3,95.44 L155.8,94.64 L156.3,93.83 L156.8,93.01 L157.3,92.20 L157.8,91.37 L158.3,90.54 L158.8,89.71 L159.3,88.87 L159.8,88.03 L160.3,87.19 L160.8,86.34 L161.3,85.50 L161.8,84.65 L162.3,83.79 L162.8,82.94 L163.3,82.09 L163.8,81.24 L164.3,80.38 L164.8,79.53 L165.3,78.68 L165.8,77.83 L166.3,76.98 L166.8,76.14 L167.3,75.30 L167.8,74.46 L168.3,73.62 L168.8,72.79 L169.3,71.96 L169.8,71.14 L170.3,70.32 L170.8,69.51 L171.3,68.70 L171.8,67.90 L172.3,67.11 L172.8,66.32 L173.3,65.54 L173.8,64.77 L174.3,63.99 L174.8,63.23 L175.3,62.46 L175.8,61.70 L176.3,60.94 L176.8,60.19 L177.3,59.44 L177.8,58.68 L178.3,57.94 L178.8,57.19 L179.3,56.44 L179.8,55.69 L180.3,54.94 L180.8,54.20 L181.3,53.45 L181.8,52.70 L182.3,51.94 L182.8,51.19 L183.3,50.43 L183.8,49.67 L184.3,48.91 L184.8,48.14 L185.3,47.37 L185.8,46.59 L186.3,45.82 L186.8,45.03 L187.3,44.25 L187.8,43.46 L188.3,42.67 L188.8,41.87 L189.3,41.08 L189.8,40.27 L190.3,39.47 L190.8,38.66 L191.3,37.85 L191.8,37.03 L192.3,36.21 L192.8,35.39 L193.3,34.56 L193.8,33.74 L194.3,32.90 L194.8,32.07 L195.3,31.23 L195.8,30.38 L196.3,29.54 L196.8,28.69 L197.3,27.84 L197.8,26.98 L198.3,26.12 L198.8,25.26 L199.3,24.39 L199.8,23.52 L200.3,22.65 L200.8,21.77 L201.3,20.89 L201.8,20.01 L202.3,19.12 L202.8,18.23 L203.3,17.34 L203.8,16.44 L204.3,15.54 L204.8,14.64 L205.1,14.10 L205.6,13.25 L206.1,12.47 L206.6,11.74 L207.1,11.07 L207.6,10.44 L208.1,9.87 L208.6,9.40 L209.1,9.01 L209.6,8.68 L210.1,8.47 L210.6,8.32 L211.1,8.22 L211.6,8.21 L212.1,8.29 L212.6,8.44 L213.1,8.62 L213.6,8.93 L214.1,9.32 L214.6,9.77 L215.1,10.32 L215.6,10.94 L216.1,11.60 L216.6,12.33 L217.1,13.12 L217.5,13.80 L218.0,14.56 L218.5,15.33 L219.0,16.10 L219.5,16.87 L220.0,17.64 L220.5,18.41 L221.0,19.18 L221.5,19.94 L222.0,20.71 L222.5,21.48 L223.0,22.24 L223.5,23.01 L224.0,23.77 L224.5,24.54 L225.0,25.30 L225.5,26.06 L226.0,26.82 L226.5,27.59 L227.0,28.35 L227.5,29.11 L228.0,29.86 L228.5,30.62 L229.0,31.38 L229.5,32.13 L230.0,32.89 L230.5,33.64 L231.0,34.40 L231.5,35.15 L232.0,35.90 L232.5,36.65 L233.0,37.40 L233.5,38.14 L234.0,38.89 L234.5,39.63 L235.0,40.38 L235.5,41.12 L236.0,41.86 L236.5,42.60 L237.0,43.33 L237.5,44.07 L238.0,44.80 L238.5,45.53 L239.0,46.26 L239.5,46.99 L240.0,47.72 L240.5,48.45 L241.0,49.17 L241.5,49.89 L242.0,50.61 L242.5,51.33 L243.0,52.04 L243.5,52.76 L244.0,53.47 L244.5,54.18 L245.0,54.89 L245.5,55.59 L246.0,56.30 L246.5,57.00 L247.0,57.70 L247.5,58.39 L248.0,59.09 L248.5,59.78 L249.0,60.47 L249.5,61.16 L249.8,61.61 L250.3,62.62 L250.8,63.62 L251.3,64.62 L251.8,65.62 L252.3,66.62 L252.8,67.62 L253.3,68.62 L253.8,69.61 L254.3,70.60 L254.8,71.60 L255.3,72.56 L255.8,73.49 L256.3,74.43 L256.8,75.36 L257.3,76.29 L257.8,77.22 L258.3,78.15 L258.8,79.07 L259.3,80.00 L259.8,80.92 L260.3,81.85 L260.8,82.77 L261.3,83.69 L261.8,84.62 L262.3,85.57 L262.8,86.51 L263.3,87.46 L263.8,88.40 L264.3,89.34 L264.8,90.28 L265.3,91.22 L265.8,92.15 L266.3,93.09 L266.8,94.02 L267.3,94.95 L267.8,95.88 L268.3,96.81 L268.8,97.74 L269.3,98.66 L269.8,99.59 L270.3,100.52 L270.8,101.47 L271.3,102.41 L271.8,103.35 L272.3,104.29 L272.8,105.22 L273.3,106.16 L273.8,107.09 L274.3,108.03 L274.8,108.96 L275.3,109.89 L275.8,110.81 L276.3,111.74 L276.8,112.66 L277.3,113.59 L277.8,114.51 L278.3,115.43 L278.8,116.34 L279.3,117.26 L279.8,118.17 L280.3,119.12 L280.8,120.08 L281.3,121.05 L281.8,122.01 L282.3,122.97 L282.8,123.93 L283.3,124.89 L283.8,125.84 L284.3,126.79 L284.8,127.75 L285.3,128.70 L285.8,129.64 L286.3,130.59 L286.8,131.53 L287.3,132.48 L287.8,133.42 L288.3,134.36 L288.8,135.29 L289.3,136.23 L289.8,137.16 L290.3,138.06 L290.8,138.94 L291.3,139.81 L291.8,140.68 L292.3,141.55 L292.8,142.42 L293.3,143.28 L293.8,144.15 L294.3,145.01 L294.8,145.87 L295.3,146.73 L295.8,147.58 L296.3,148.44 L296.8,149.29 L297.3,150.14 L297.8,150.99 L298.3,151.84 L298.8,152.68 L299.3,153.52 L299.8,154.37 L300.3,155.20 L300.8,156.04 L301.3,156.88 L301.8,157.71 L302.3,158.54 L302.8,159.37 L303.3,160.20 L303.8,161.02 L304.3,161.85 L304.8,162.67 L305.3,163.49 L305.8,164.30 L306.3,165.12 L306.8,165.93 L307.3,166.74 L307.8,167.55 L308.3,168.36 L308.8,169.16 L309.3,169.97 L309.8,170.77 L310.3,171.57 L310.8,172.36 L311.3,173.16 L311.8,173.95 L312.3,174.74 L312.8,175.53 L313.3,176.31 L313.8,177.10 L314.3,177.88 L314.8,178.66 L315.3,179.44 L315.8,180.21 L316.3,180.99 L316.8,181.76 L317.3,182.53 L317.8,183.30 L318.3,184.06 L318.8,184.82 L319.3,185.58 L319.8,186.34 L320.3,187.10 L320.8,187.85 L321.3,188.61 L321.8,189.36 L322.3,190.10 L322.8,190.85 L323.3,191.59 L323.8,192.34 L324.3,193.08 L324.8,193.81 L325.3,194.55 L325.8,195.28 L326.3,196.01 L326.8,196.74 L327.3,197.47 L327.8,198.19 L328.3,198.92 L328.8,199.64 L329.3,200.35 L329.8,201.07 L330.3,201.79 L330.8,202.50 L331.3,203.21 L331.8,203.92 L332.3,204.62 L332.8,205.32 L333.3,206.03 L333.8,206.73 L334.3,207.42 L334.8,208.12 L335.3,208.81 L335.8,209.50 L336.3,210.19 L336.8,210.88 L337.3,211.56 L337.8,212.25 L338.3,212.93 L338.8,213.60 L339.3,214.28 L339.8,214.96 L340.3,215.63 L340.8,216.30 L341.3,216.97 L341.8,217.63 L342.3,218.30 L342.8,218.96 L343.3,219.62 L343.8,220.27 L344.3,220.93 L344.8,221.58 L345.3,222.23 L345.8,222.88 L346.3,223.53 L346.8,224.18 L347.3,224.82 L347.8,225.46 L348.3,226.10 L348.8,226.73 L349.3,227.37 L349.8,228.00 L350.3,228.63 L350.8,229.26 L351.3,229.89 L351.8,230.51 L352.3,231.13 L352.8,231.75 L353.3,232.37 L353.8,232.99 L354.3,233.60 L354.8,234.21 L355.3,234.82 L355.8,235.43 L356.3,236.04 L356.8,236.64 L357.3,237.24 L357.8,237.84 L358.3,238.44 L358.8,239.03 L359.3,239.63 L359.8,240.22 L360.3,240.81 L360.8,241.40 L361.3,241.98 L361.8,242.56 L362.3,243.14 L362.8,243.72 L363.3,244.30 L363.8,244.88 L364.3,245.45 L364.8,246.02 L365.3,246.59 L365.8,247.15 L366.3,247.72 L366.8,248.28 L367.3,248.84 L367.8,249.40 L368.3,249.96 L368.8,250.51 L369.3,251.06 L369.8,251.61 L370.3,252.16 L370.8,252.71 L371.3,253.25 L371.8,253.79 L372.3,254.33 L372.8,254.87 L373.3,255.41 L373.8,255.94 L374.3,256.47 L374.8,257.00 L375.3,257.54 L375.8,258.07 L376.3,258.61 L376.8,259.14 L377.3,259.67 L377.8,260.20 L378.3,260.72 L378.8,261.25 L379.3,261.77 L379.8,262.29 L380.3,262.80 L380.8,263.32 L381.3,263.83 L381.8,264.35 L382.3,264.85 L382.8,265.36 L383.3,265.87 L383.8,266.37 L384.3,266.87 L384.8,267.37 L385.3,267.87 L385.8,268.37 L386.3,268.86 L386.8,269.35 L387.3,269.84 L387.8,270.33 L388.3,270.81 L388.8,271.30 L389.3,271.78 L389.8,272.26 L390.3,272.73 L390.8,273.21 L391.3,273.68 L391.8,274.15 L392.3,274.62 L392.8,275.09 L393.3,275.56 L393.8,276.02 L394.3,276.48 L394.8,276.94 L395.3,277.40 L395.8,277.85 L396.3,278.30 L396.8,278.76 L397.3,279.21 L397.8,279.65 L398.3,280.10 L398.8,280.54 L399.3,280.98 L399.8,281.42 L400.3,281.85 L400.8,282.28 L401.3,282.70 L401.8,283.12 L402.3,283.54 L402.8,283.96 L403.3,284.38 L403.8,284.79 L404.3,285.20 L404.8,285.61 L405.3,286.02 L405.8,286.42 L406.3,286.83 L406.8,287.23 L407.3,287.63 L407.8,288.03 L408.3,288.42 L408.8,288.82 L409.3,289.21 L409.8,289.60 L410.3,289.98 L410.8,290.37 L411.3,290.75 L411.8,291.14 L412.3,291.52 L412.8,291.89 L413.3,292.27 L413.8,292.64 L414.3,293.02 L414.8,293.39 L415.3,293.75 L415.8,294.12 L416.3,294.49 L416.8,294.85 L417.3,295.21 L417.8,295.57 L418.3,295.92 L418.8,296.28 L419.3,296.63 L419.8,296.98" stroke="#000000"/>
</g>
<g stroke="#000" fill="none">
<rect x="55.25" y="7.45" width="364.65" height="364.8" stroke-width="1.25"/>
<path d="M107.45,372.25 v-10.3 M107.45,7.45 v10.3 M211.45,372.25 v-10.3 M211.45,7.45 v10.3 M315.45,372.25 v-10.3 M315.45,7.45 v10.3 M159.45,372.25 v-5.2 M159.45,7.45 v5.2 M263.45,372.25 v-5.2 M263.45,7.45 v5.2 M367.45,372.25 v-5.2 M367.45,7.45 v5.2 M55.25,68.44 h10.4 M419.9,68.44 h-10.8 M55.25,129.26 h10.4 M419.9,129.26 h-10.8 M55.25,190.07 h10.4 M419.9,190.07 h-10.8 M55.25,250.89 h10.4 M419.9,250.89 h-10.8 M55.25,311.70 h10.4 M419.9,311.70 h-10.8 M55.25,38.04 h5.2 M419.9,38.04 h-5.6 M55.25,98.85 h5.2 M419.9,98.85 h-5.6 M55.25,159.67 h5.2 M419.9,159.67 h-5.6 M55.25,220.48 h5.2 M419.9,220.48 h-5.6 M55.25,281.30 h5.2 M419.9,281.30 h-5.6 M55.25,342.11 h5.2 M419.9,342.11 h-5.6" stroke-width="1"/>
</g>
<text x="50.8" y="14.2" text-anchor="end">0</text>
<text x="50.8" y="75.1" text-anchor="end">-5</text>
<text x="50.8" y="136.0" text-anchor="end">-10</text>
<text x="50.8" y="197.0" text-anchor="end">-15</text>
<text x="50.8" y="257.8" text-anchor="end">-20</text>
<text x="50.8" y="318.6" text-anchor="end">-25</text>
<text x="50.8" y="379.4" text-anchor="end">-30</text>
<text x="107.4" y="391.3" text-anchor="middle">-50</text>
<text x="211.4" y="391.3" text-anchor="middle">0</text>
<text x="316.1" y="391.3" text-anchor="middle">50</text>
<text x="420.2" y="391.3" text-anchor="middle">100</text>
<text x="198.2" y="410.7" style="font-size:23.5px">ω</text>
<text x="223.3" y="410.7">[MeV]</text>
<text transform="translate(15.0,264.8) rotate(-90)" style="font-size:20px">Im</text>
<text transform="translate(15.0,235.5) rotate(-90)" style="font-size:22px">Σ</text>
<text transform="translate(15.0,218.5) rotate(-90)" style="font-size:20.5px">(k,</text>
<text transform="translate(15.0,195.9) rotate(-90)" style="font-size:23.5px">ω</text>
<text transform="translate(15.0,182.3) rotate(-90)" style="font-size:20px">)</text>
<text transform="translate(15.0,169.5) rotate(-90)" style="font-size:20px">[MeV]</text>
<line x1="113" x2="134.2" y1="254.2" y2="254.2" stroke="#0000ff" stroke-width="2"/>
<text x="144.6" y="260.6">T<tspan dx="-0.5"> =</tspan><tspan dx="0.1"> 10</tspan><tspan dx="-1.4"> Me</tspan><tspan dx="-1.8">V</tspan></text>
<line x1="113" x2="134.2" y1="272.6" y2="272.6" stroke="#ff0000" stroke-width="2"/>
<text x="144.6" y="279.0">T<tspan dx="-0.5"> =</tspan><tspan dx="-0.5"> 7</tspan><tspan dx="-0.1"> Me</tspan><tspan dx="-2.0">V</tspan></text>
<line x1="113" x2="134.2" y1="291.0" y2="291.0" stroke="#00ff00" stroke-width="2"/>
<text x="144.6" y="297.4">T<tspan dx="-0.5"> =</tspan><tspan dx="-0.5"> 4</tspan><tspan dx="-0.1"> Me</tspan><tspan dx="-2.0">V</tspan></text>
<line x1="113" x2="134.2" y1="309.4" y2="309.4" stroke="#000000" stroke-width="2"/>
<text x="144.6" y="315.8">T<tspan dx="-0.5"> =</tspan><tspan dx="0.5"> 0</tspan></text>
</svg></body></html>
